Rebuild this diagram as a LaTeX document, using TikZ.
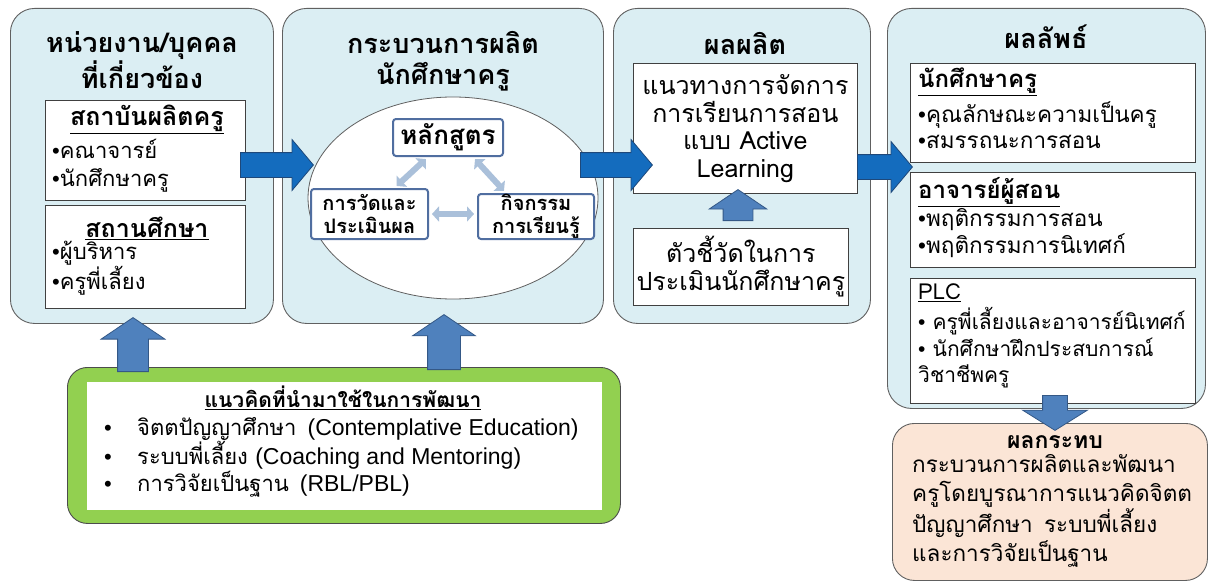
\documentclass[tikz,border=0pt]{standalone}
\usepackage{fontspec}
\setmainfont[Script=Thai]{Loma}
\newfontfamily\engfont{Liberation Sans}
\usetikzlibrary{shapes.geometric}
\usetikzlibrary{shapes.arrows}
\usetikzlibrary{arrows.meta}
\usetikzlibrary{calc}

\definecolor{panelfill}{RGB}{219,238,243}
\definecolor{panelline}{RGB}{96,96,96}
\definecolor{flowblue}{RGB}{20,108,190}
\definecolor{flowline}{RGB}{30,72,122}
\definecolor{liftblue}{RGB}{79,129,189}
\definecolor{liftline}{RGB}{52,88,134}
\definecolor{cyclefill}{RGB}{170,192,218}
\definecolor{cycleline}{RGB}{80,110,160}
\definecolor{ideagreen}{RGB}{146,208,80}
\definecolor{impactfill}{RGB}{251,229,214}

\newcommand{\bul}{{\engfont •}}

\tikzset{
  panel/.style={draw=panelline, fill=panelfill, line width=0.9pt, rounded corners=24pt,
    anchor=north west, inner sep=0pt},
  listbox/.style={draw=black!75, fill=white, line width=0.8pt, anchor=north west, inner sep=0pt},
  cyclebox/.style={draw=cycleline, fill=white, line width=2pt, rounded corners=3pt,
    anchor=north west, inner sep=0pt},
  heading/.style={font=\fontsize{27}{31}\selectfont\bfseries, align=center, inner sep=0pt},
  boxhead/.style={font=\fontsize{24}{28}\selectfont\bfseries, inner sep=0pt},
  items/.style={font=\fontsize{22}{28}\selectfont, align=left, inner sep=0pt, anchor=west},
  blockarrow/.style={single arrow, line width=0.8pt, inner xsep=0pt, minimum width=0pt,
    anchor=tail},
  flow/.style={blockarrow, draw=flowline, fill=flowblue, inner ysep=12pt,
    single arrow head extend=13pt, single arrow tip angle=100},
  lift/.style={blockarrow, draw=liftline, fill=liftblue, rotate=90,
    single arrow tip angle=112},
  drop/.style={blockarrow, draw=liftline, fill=liftblue, rotate=-90,
    single arrow tip angle=116},
  cyclearrow/.style={draw=cyclefill, line width=6pt,
    {Triangle[length=7pt,width=15pt]}-{Triangle[length=7pt,width=15pt]},
    shorten <=3pt, shorten >=3pt}
}

\begin{document}
\begin{tikzpicture}[x=1pt, y=-1pt]
  \useasboundingbox (0,0) rectangle (1210,586);

  \node[panel, minimum width=263pt, minimum height=315pt] (unit) at (10,8) {};
  \node[panel, minimum width=321pt, minimum height=315pt] (process) at (282,8) {};
  \node[panel, minimum width=257pt, minimum height=315pt] (product) at (613,8) {};
  \node[panel, minimum width=318pt, minimum height=400pt] (outcome) at (887,8) {};
  \node[panel, fill=impactfill, rounded corners=22pt, minimum width=315pt, minimum height=157pt] (impact) at (892,423) {};

  \node[heading] (unittitle) at (142,60) {หน่วยงาน/บุคคล\\ที่เกี่ยวข้อง};
  \node[listbox, minimum width=200pt, minimum height=100pt] (inst) at (45,100) {};
  \node[listbox, minimum width=200pt, minimum height=103pt] (school) at (45,205) {};
  \node[boxhead, font=\fontsize{25}{28}\selectfont\bfseries] (insthead) at (147,119) {\underline{สถาบันผลิตครู}};
  \node[items] (institems) at (52,166) {\bul คณาจารย์\\\bul นักศึกษาครู};
  \node[boxhead, font=\fontsize{25}{28}\selectfont\bfseries] (schoolhead) at (147,228) {\underline{สถานศึกษา}};
  \node[items] (schoolitems) at (52,268) {\bul ผู้บริหาร\\\bul ครูพี่เลี้ยง};

  \node[heading] (processtitle) at (443,61) {กระบวนการผลิต\\นักศึกษาครู};
  \node[ellipse, draw=panelline, fill=white, line width=0.8pt, minimum width=290pt, minimum height=202pt] (cycle) at (453,198) {};
  \node[cyclebox, minimum width=110pt, minimum height=37pt] (course) at (392,118) {};
  \node[cyclebox, minimum width=117pt, minimum height=50pt] (assess) at (310,188) {};
  \node[cyclebox, minimum width=116pt, minimum height=45pt] (activity) at (477,193) {};
  \node[boxhead, font=\fontsize{26}{28}\selectfont\bfseries] at (course.center) {หลักสูตร};
  \node[boxhead, align=center, font=\fontsize{20}{23}\selectfont\bfseries] at (assess.center) {การวัดและ\\ประเมินผล};
  \node[boxhead, align=center, font=\fontsize{20}{23}\selectfont\bfseries] at (activity.center) {กิจกรรม\\การเรียนรู้};
  \draw[cyclearrow] ($(course.south)+(-20,0)$) -- ($(assess.north)+(25,0)$);
  \draw[cyclearrow] ($(course.south)+(25,0)$) -- ($(activity.north)+(-30,0)$);
  \draw[cyclearrow] (assess.east) -- (assess.east -| activity.west);

  \node[heading] (producttitle) at (745,43) {ผลผลิต};
  \node[listbox, minimum width=224pt, minimum height=130pt] (guide) at (633,63) {};
  \node[listbox, minimum width=215pt, minimum height=77pt] (indicator) at (633,228) {};
  \node[items, anchor=center, align=center, font=\fontsize{25}{27.5}\selectfont] at (guide.center) {แนวทางการจัดการ\\การเรียนการสอน\\แบบ Active\\Learning};
  \node[items, anchor=center, align=center, font=\fontsize{25}{28}\selectfont] at (indicator.center) {ตัวชี้วัดในการ\\ประเมินนักศึกษาครู};
  \node[lift, inner ysep=14.5pt, single arrow head extend=14pt, minimum height=31pt] (raise) at (738,221) {};

  \node[heading] (outcometitle) at (1046,37) {ผลลัพธ์};
  \node[listbox, minimum width=285pt, minimum height=99pt] (student) at (910,63) {};
  \node[listbox, minimum width=285pt, minimum height=95pt] (lecturer) at (910,172) {};
  \node[listbox, minimum width=285pt, minimum height=125pt] (plc) at (910,278) {};
  \node[boxhead, anchor=west] at (918,82) {\underline{นักศึกษาครู}};
  \node[items, font=\fontsize{22.5}{26}\selectfont] at (918,125) {\bul คุณลักษณะความเป็นครู\\\bul สมรรถนะการสอน};
  \node[boxhead, anchor=west] at (918,192) {\underline{อาจารย์ผู้สอน}};
  \node[items, font=\fontsize{22.5}{27}\selectfont] at (918,233) {\bul พฤติกรรมการสอน\\\bul พฤติกรรมการนิเทศก์};
  \node[items, font=\fontsize{22}{27}\selectfont] at (918,293) {\underline{PLC}};
  \node[items, font=\fontsize{21}{26.5}\selectfont] at (918,348) {\bul\ ครูพี่เลี้ยงและอาจารย์นิเทศก์\\\bul\ นักศึกษาฝึกประสบการณ์\\วิชาชีพครู};

  \node[boxhead, font=\fontsize{23}{28}\selectfont\bfseries] at (1055,442) {ผลกระทบ};
  \node[items, font=\fontsize{22.5}{29}\selectfont] at (912,511) {กระบวนการผลิตและพัฒนา\\ครูโดยบูรณาการแนวคิดจิตต\\ปัญญาศึกษา\enspace ระบบพี่เลี้ยง\\และการวิจัยเป็นฐาน};

  \node[panel, fill=ideagreen, draw=black!70, rounded corners=20pt, minimum width=553pt, minimum height=156pt] (idea) at (67,367) {};
  \node[anchor=north west, fill=white, inner sep=0pt, minimum width=515pt, minimum height=128pt] (ideainner) at (87,382) {};
  \node[boxhead, font=\fontsize{21}{28}\selectfont\bfseries] at (343,398) {\underline{แนวคิดที่นำมาใช้ในการพัฒนา}};
  \node[items, font=\fontsize{22}{27}\selectfont] at (104,457) {\makebox[33pt][l]{\bul}จิตตปัญญาศึกษา\enspace{\engfont\fontsize{23}{27}\selectfont (Contemplative Education)}\\
    \makebox[33pt][l]{\bul}ระบบพี่เลี้ยง {\engfont\fontsize{23}{27}\selectfont (Coaching and Mentoring)}\\
    \makebox[33pt][l]{\bul}การวิจัยเป็นฐาน\enspace{\engfont\fontsize{23}{27}\selectfont (RBL/PBL)}};

  \node[flow, minimum height=73pt] (unit2process) at (240,165) {};
  \node[flow, minimum height=72pt] (process2product) at (580,165) {};
  \node[flow, minimum height=55pt] (product2outcome) at (857,167) {};
  \node[lift, inner ysep=15pt, single arrow head extend=16.5pt, minimum height=54pt] (idea2unit) at (133,372) {};
  \node[lift, inner ysep=16pt, single arrow head extend=15pt, minimum height=55pt] (idea2process) at (444,370) {};
  \node[drop, inner ysep=12pt, single arrow head extend=20pt, minimum height=35pt] (outcome2impact) at (1055,395) {};
\end{tikzpicture}
\end{document}
